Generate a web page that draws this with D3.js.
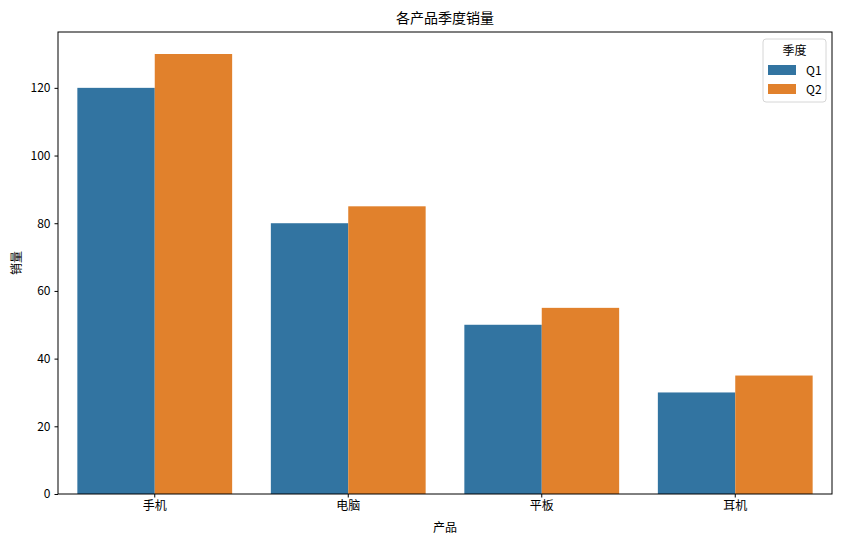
<!DOCTYPE html>
<html><head><meta charset="utf-8">
<script src="https://cdn.jsdelivr.net/npm/d3@7"></script>
<style>body{margin:0;background:#fff;} text{font-family:"Noto Sans CJK SC","DejaVu Sans",sans-serif;}</style>
</head><body>
<svg id="c" width="843" height="545"></svg>
<script>
const categories = ["手机","电脑","平板","耳机"];
const seriesNames = ["Q1","Q2"];
const q1 = [120, 80, 50, 30];
const q2 = [130, 85, 55, 35];
const yTicks = [0,20,40,60,80,100,120];
const colors = ["#3274a1","#e1812c"];

const svg = d3.select("#c");
const m = {l:58, r:832, t:32, b:494};
const x = d3.scaleBand().domain(categories).range([m.l, m.r]).paddingInner(0).paddingOuter(0);
const x1 = d3.scaleBand().domain(seriesNames).range([x.bandwidth()*0.1, x.bandwidth()*0.9]);
const y = d3.scaleLinear().domain([0, 136.5]).range([m.b, m.t]);
const series = [q1, q2];

series.forEach((vals, si) => {
  svg.append("g").selectAll("rect").data(vals).join("rect")
    .attr("x", (d,i) => x(categories[i]) + x1(seriesNames[si]))
    .attr("width", x1.bandwidth())
    .attr("y", d => y(d))
    .attr("height", d => y(0) - y(d))
    .attr("fill", colors[si]);
});

const xa = svg.append("g").attr("transform", `translate(0,${m.b})`)
  .call(d3.axisBottom(x).tickSize(3.5).tickSizeOuter(0).tickPadding(4));
const ya = svg.append("g").attr("transform", `translate(${m.l},0)`)
  .call(d3.axisLeft(y).tickValues(yTicks).tickSize(3.5).tickSizeOuter(0).tickPadding(4));
[xa, ya].forEach(a => {
  a.selectAll("text").attr("font-size", 12).attr("fill", "#000").style("font-family", '"Noto Sans CJK SC","DejaVu Sans",sans-serif');
  a.selectAll("line").attr("stroke", "#000");
  a.select(".domain").remove();
});
svg.append("rect").attr("x", m.l).attr("y", m.t).attr("width", m.r - m.l).attr("height", m.b - m.t)
  .attr("fill", "none").attr("stroke", "#000").attr("stroke-width", 1);

svg.append("text").attr("x", (m.l+m.r)/2).attr("y", 23).attr("text-anchor", "middle").attr("font-size", 14).text("各产品季度销量");
svg.append("text").attr("x", (m.l+m.r)/2).attr("y", 532).attr("text-anchor", "middle").attr("font-size", 12).text("产品");
svg.append("text").attr("transform", `translate(21,${(m.t+m.b)/2}) rotate(-90)`).attr("text-anchor", "middle").attr("font-size", 12).text("销量");

const lg = svg.append("g");
lg.append("rect").attr("x", 763).attr("y", 39).attr("width", 63).attr("height", 63).attr("rx", 3)
  .attr("fill", "#fff").attr("fill-opacity", 0.8).attr("stroke", "#d6d6d6");
lg.append("text").attr("x", 794.5).attr("y", 55).attr("text-anchor", "middle").attr("font-size", 12).text("季度");
seriesNames.forEach((s, i) => {
  lg.append("rect").attr("x", 768).attr("y", 65 + i*19).attr("width", 28).attr("height", 10).attr("fill", colors[i]);
  lg.append("text").attr("x", 806).attr("y", 74.5 + i*19).attr("font-size", 12).text(s);
});
</script>
</body></html>
